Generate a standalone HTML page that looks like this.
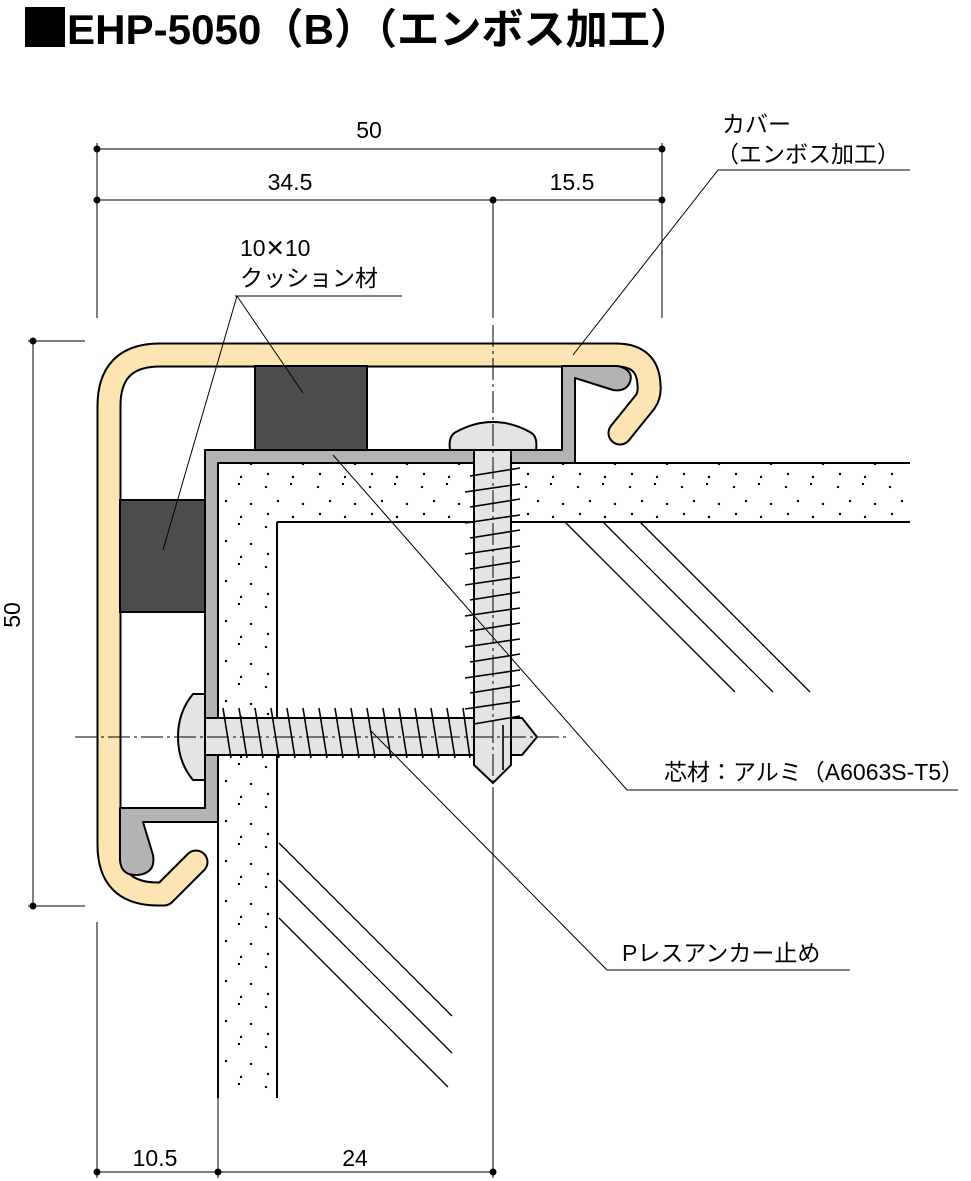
<!DOCTYPE html>
<html><head><meta charset="utf-8"><style>
html,body{margin:0;padding:0;background:#fff;}
svg{display:block;}
text{font-family:"Liberation Sans","Noto Sans CJK JP",sans-serif;fill:#000;}
</style></head><body>
<svg width="971" height="1181" viewBox="0 0 971 1181" xmlns="http://www.w3.org/2000/svg">
<defs>
<pattern id="dots" width="52" height="40" patternUnits="userSpaceOnUse">
<rect width="52" height="40" fill="#fff"/>
<circle cx="6" cy="7" r="1.2" fill="#000"/>
<circle cx="31" cy="4" r="1.2" fill="#000"/>
<circle cx="18" cy="21" r="1.2" fill="#000"/>
<circle cx="43" cy="24" r="1.2" fill="#000"/>
<circle cx="8" cy="34" r="1.2" fill="#000"/>
<circle cx="33" cy="37" r="1.2" fill="#000"/>
</pattern>
</defs>

<!-- title -->
<rect x="25" y="7" width="40" height="40" fill="#000"/>
<text x="67" y="44" font-size="42" font-weight="bold" textLength="625" lengthAdjust="spacingAndGlyphs">EHP-5050（B）（エンボス加工）</text>

<!-- dimension lines -->
<g stroke="#000" stroke-width="1" fill="none">
<line x1="97" y1="149" x2="662" y2="149"/>
<line x1="97" y1="200" x2="662" y2="200"/>
<line x1="97" y1="143" x2="97" y2="318"/>
<line x1="662" y1="143" x2="662" y2="318"/>
<line x1="493" y1="200" x2="493" y2="318"/>
<line x1="33" y1="341" x2="33" y2="906"/>
<line x1="28" y1="341" x2="85" y2="341"/>
<line x1="28" y1="906" x2="85" y2="906"/>
<line x1="97" y1="1172" x2="493" y2="1172"/>
<line x1="97" y1="922" x2="97" y2="1178"/>
<line x1="218" y1="1098" x2="218" y2="1178"/>
<line x1="493" y1="790" x2="493" y2="1178"/>
</g>
<g fill="#000">
<circle cx="97" cy="149" r="3.5"/><circle cx="662" cy="149" r="3.5"/>
<circle cx="97" cy="200" r="3.5"/><circle cx="493" cy="200" r="3.5"/><circle cx="662" cy="200" r="3.5"/>
<circle cx="33" cy="341" r="3.5"/><circle cx="33" cy="906" r="3.5"/>
<circle cx="97" cy="1172" r="3.5"/><circle cx="218" cy="1172" r="3.5"/><circle cx="493" cy="1172" r="3.5"/>
</g>
<g font-size="23">
<text x="369" y="138" text-anchor="middle">50</text>
<text x="290" y="190" text-anchor="middle">34.5</text>
<text x="572" y="190" text-anchor="middle">15.5</text>
<text x="155" y="1166" text-anchor="middle">10.5</text>
<text x="355" y="1166" text-anchor="middle">24</text>
<text transform="translate(20,615) rotate(-90)" text-anchor="middle">50</text>
</g>

<!-- boards -->
<path d="M218,463 L910,463 L910,522 L277,522 L277,1098 L218,1098 Z" fill="url(#dots)" stroke="none"/>
<g stroke="#000" stroke-width="2" fill="none">
<line x1="218" y1="463" x2="910" y2="463"/>
<line x1="277" y1="522" x2="910" y2="522"/>
<line x1="277" y1="522" x2="277" y2="1098"/>
<line x1="218" y1="463" x2="218" y2="1098"/>
</g>
<g stroke="#000" stroke-width="1.3">
<line x1="565" y1="522" x2="735" y2="692"/>
<line x1="603" y1="522" x2="773" y2="692"/>
<line x1="640" y1="522" x2="810" y2="692"/>
<line x1="279" y1="843" x2="452" y2="1016"/>
<line x1="279" y1="880" x2="452" y2="1053"/>
<line x1="279" y1="918" x2="448" y2="1087"/>
</g>

<!-- cover -->
<path d="M620,433 L645,402 Q650,395 649,385 Q648,355 616,355 L160,355 Q109,355 109,406 L109,845 Q109,894 158,894 L164,894 L196,862" fill="none" stroke="#000" stroke-width="25" stroke-linecap="round" stroke-linejoin="round"/>
<path d="M620,433 L645,402 Q650,395 649,385 Q648,355 616,355 L160,355 Q109,355 109,406 L109,845 Q109,894 158,894 L164,894 L196,862" fill="none" stroke="#fde5b3" stroke-width="21" stroke-linecap="round" stroke-linejoin="round"/>

<!-- core aluminum -->
<path d="M205,450 L562,450 L562,366 L618,366 Q634,370 630,382 Q626,392 613,390 L575,378 L575,463 L218,463 L218,822 L143,822 L153,855 Q156,873 138,875 Q121,876 120,860 L120,808 L205,808 Z" fill="#b3b3b3" stroke="#000" stroke-width="2" stroke-linejoin="round"/>

<!-- cushions -->
<rect x="255" y="366" width="112" height="84" fill="#4d4d4d" stroke="#000" stroke-width="2"/>
<rect x="120" y="500" width="85" height="112" fill="#4d4d4d" stroke="#000" stroke-width="2"/>

<!-- horizontal screw -->
<g stroke="#000" stroke-width="2" fill="#e4e4e4">
<path d="M205,694 L193,694 Q178,712 178,737 Q178,762 193,780 L205,780 Z"/>
<rect x="205" y="718" width="290" height="37"/>
<path d="M511,718 L522,718 L537,737 L522,755 L511,755 Z"/>
</g>
<g stroke="#000" stroke-width="1.6">
<line x1="223" y1="708" x2="231" y2="758"/><line x1="239" y1="708" x2="247" y2="758"/>
<line x1="255" y1="708" x2="263" y2="758"/><line x1="271" y1="708" x2="279" y2="758"/>
<line x1="287" y1="708" x2="295" y2="758"/><line x1="303" y1="708" x2="311" y2="758"/>
<line x1="319" y1="708" x2="327" y2="758"/><line x1="335" y1="708" x2="343" y2="758"/>
<line x1="351" y1="708" x2="359" y2="758"/><line x1="367" y1="708" x2="375" y2="758"/>
<line x1="383" y1="708" x2="391" y2="758"/><line x1="399" y1="708" x2="407" y2="758"/>
<line x1="415" y1="708" x2="423" y2="758"/><line x1="431" y1="708" x2="439" y2="758"/>
<line x1="447" y1="708" x2="455" y2="758"/><line x1="463" y1="708" x2="470" y2="758"/>
</g>

<!-- vertical screw -->
<g stroke="#000" stroke-width="2" fill="#e4e4e4">
<path d="M450,450 L536,450 Q538,436 530,432 Q512,422 493,422 Q474,422 456,432 Q448,436 450,450 Z"/>
<path d="M474,450 L511,450 L511,765 L493,783 L474,765 Z"/>
</g>
<g stroke="#000" stroke-width="1.6">
<line x1="470" y1="476" x2="520" y2="468"/><line x1="465" y1="492" x2="520" y2="484"/>
<line x1="470" y1="507" x2="520" y2="499"/><line x1="465" y1="523" x2="520" y2="515"/>
<line x1="470" y1="538" x2="520" y2="530"/><line x1="465" y1="554" x2="520" y2="546"/>
<line x1="470" y1="569" x2="520" y2="561"/><line x1="465" y1="585" x2="520" y2="577"/>
<line x1="470" y1="600" x2="520" y2="592"/><line x1="465" y1="616" x2="520" y2="608"/>
<line x1="470" y1="631" x2="520" y2="623"/><line x1="465" y1="647" x2="520" y2="639"/>
<line x1="470" y1="662" x2="520" y2="654"/><line x1="465" y1="678" x2="520" y2="670"/>
<line x1="470" y1="693" x2="520" y2="685"/><line x1="465" y1="709" x2="520" y2="701"/>
<line x1="474" y1="724" x2="520" y2="716"/>
<line x1="503" y1="725" x2="503" y2="770"/>
</g>

<!-- center lines -->
<g stroke="#000" stroke-width="1" stroke-dasharray="22,4,3,4" fill="none">
<line x1="493" y1="325" x2="493" y2="790"/>
<line x1="75" y1="737" x2="570" y2="737"/>
</g>

<!-- leaders & labels -->
<g stroke="#000" stroke-width="1" fill="none">
<line x1="235" y1="296" x2="402" y2="296"/>
<line x1="237" y1="296" x2="163" y2="550"/>
<line x1="237" y1="296" x2="303" y2="393"/>
<line x1="718" y1="170" x2="910" y2="170"/>
<line x1="718" y1="170" x2="573" y2="355"/>
<line x1="627" y1="790" x2="958" y2="790"/>
<line x1="627" y1="790" x2="333" y2="455"/>
<line x1="607" y1="970" x2="850" y2="970"/>
<line x1="607" y1="970" x2="370" y2="730"/>
</g>
<g font-size="23">
<text x="240" y="256">10✕10</text>
<text x="240" y="286">クッション材</text>
<text x="722" y="132">カバー</text>
<text x="716" y="162">（エンボス加工）</text>
<text x="664" y="780">芯材：アルミ（A6063S-T5）</text>
<text x="622" y="961">Pレスアンカー止め</text>
</g>
</svg>
</body></html>
